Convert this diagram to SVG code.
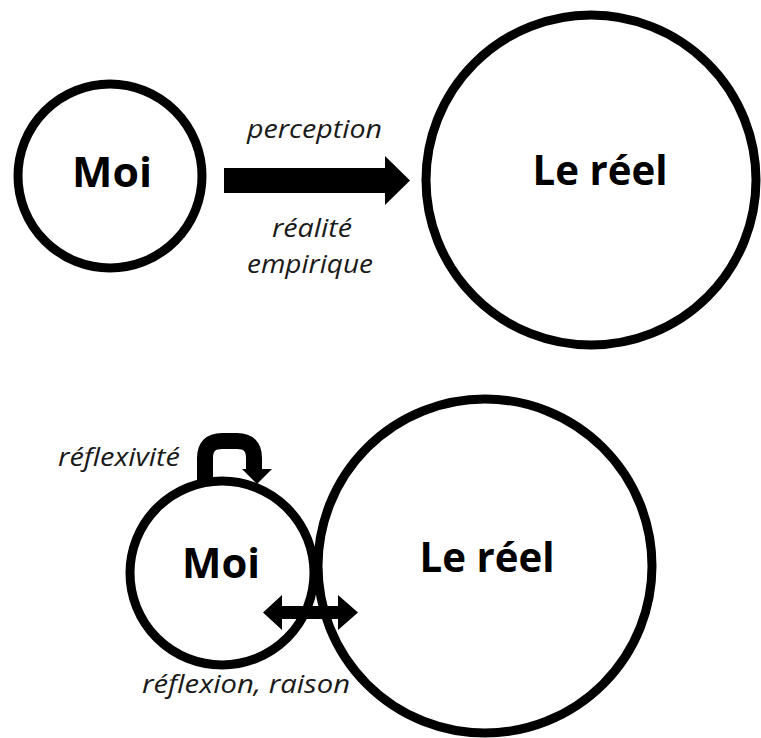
<svg xmlns="http://www.w3.org/2000/svg" width="761" height="738" viewBox="0 0 761 738">
<style>
.ring{fill:none;stroke:#000;stroke-width:9}
.title{font-family:"Open Sans","Liberation Sans",sans-serif;font-weight:bold;font-size:41px;fill:#000}
.lbl{font-family:"Open Sans","Liberation Sans",sans-serif;font-style:italic;font-size:26px;fill:#1a1a1a}
.arr{fill:#000;stroke:none}
</style>
<rect width="761" height="738" fill="#fff"/>
<g id="moi-top">
<circle class="ring" cx="110" cy="176" r="92"/>
<text class="title" x="112" y="187" text-anchor="middle" textLength="80" lengthAdjust="spacingAndGlyphs">Moi</text>
</g>
<g id="reel-top">
<circle class="ring" cx="591" cy="180" r="165"/>
<text class="title" x="600" y="185" text-anchor="middle" textLength="135" lengthAdjust="spacingAndGlyphs">Le réel</text>
</g>
<g id="moi-bottom">
<circle class="ring" cx="222" cy="573" r="92"/>
<text class="title" x="221" y="578" text-anchor="middle" textLength="78" lengthAdjust="spacingAndGlyphs">Moi</text>
</g>
<g id="reel-bottom">
<circle class="ring" cx="485" cy="566" r="167"/>
<text class="title" x="487" y="572" text-anchor="middle" textLength="135" lengthAdjust="spacingAndGlyphs">Le réel</text>
</g>
<g id="connectors">
<polygon class="arr" points="224,168 385,168 385,156 410,180.5 385,205 385,193 224,193"/>
<path d="M205,480 L205,458 Q205,441 222,441 L237,441 Q254,441 254,458 L254,470" fill="none" stroke="#000" stroke-width="16"/>
<polygon class="arr" points="242,469 272,469 257,484"/>
<polygon class="arr" points="263,612.5 282,595 282,606 338,606 338,595 358,612.5 338,630 338,619 282,619 282,630"/>
</g>
<g id="labels">
<text class="lbl" x="314.5" y="138" text-anchor="middle" textLength="135" lengthAdjust="spacingAndGlyphs">perception</text>
<text class="lbl" x="312" y="237" text-anchor="middle" textLength="80" lengthAdjust="spacingAndGlyphs">réalité</text>
<text class="lbl" x="310" y="273" text-anchor="middle" textLength="126" lengthAdjust="spacingAndGlyphs">empirique</text>
<text class="lbl" x="119" y="466" text-anchor="middle" textLength="122" lengthAdjust="spacingAndGlyphs">réflexivité</text>
<text class="lbl" x="246" y="693" text-anchor="middle" textLength="208" lengthAdjust="spacingAndGlyphs">réflexion, raison</text>
</g>
</svg>
